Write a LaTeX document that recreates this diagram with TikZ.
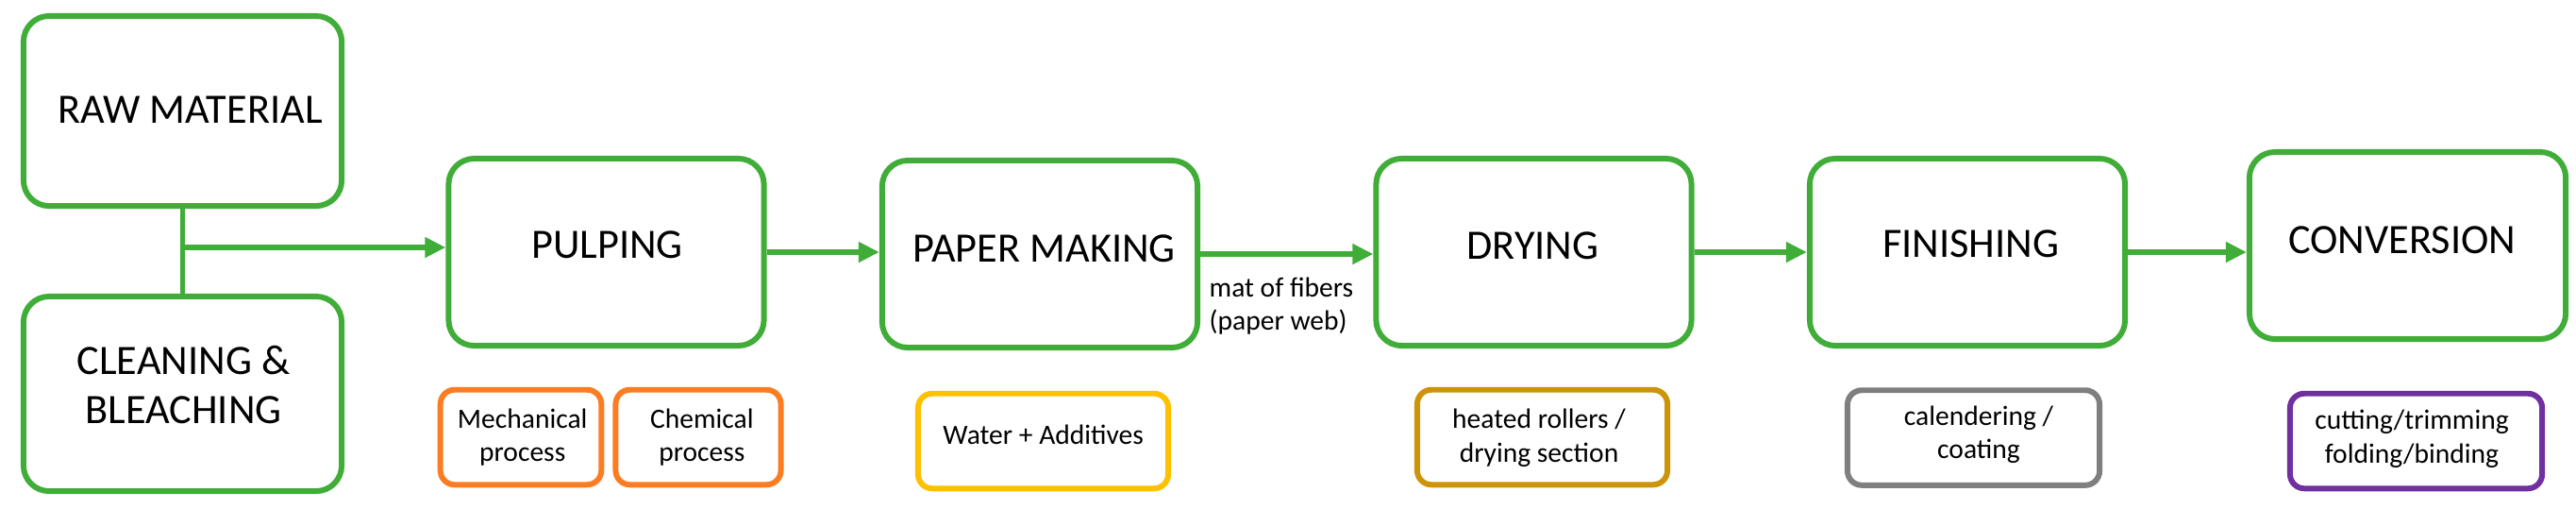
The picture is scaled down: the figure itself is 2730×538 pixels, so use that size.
\documentclass[tikz,border=0pt]{standalone}
\usepackage{fontspec}
\setmainfont{Carlito}
\usetikzlibrary{arrows.meta}
\definecolor{pgreen}{RGB}{64,173,56}
\definecolor{porange}{RGB}{250,125,35}
\definecolor{pyellow}{RGB}{255,192,0}
\definecolor{pgold}{RGB}{205,148,10}
\definecolor{pgray}{RGB}{127,127,127}
\definecolor{ppurple}{RGB}{112,48,160}
\begin{document}
\begin{tikzpicture}[x=0.01cm,y=-0.01cm,
  mainbox/.style={draw=pgreen, line width=1.7pt, rounded corners=7.7pt, minimum width=3.34cm, minimum height=1.98cm, inner sep=0pt, fill=white},
  subbox/.style={line width=1.7pt, rounded corners=4.3pt, minimum height=1.005cm, inner sep=0pt, fill=white},
  bigtxt/.style={font=\fontsize{12.6}{14.8}\selectfont, inner sep=0pt, anchor=base},
  smalltxt/.style={font=\fontsize{8.4}{10.2}\selectfont, inner sep=0pt, anchor=base},
  conn/.style={draw=pgreen, line width=1.6pt},
  arr/.style={conn, -{Triangle[length=6.3pt,width=5.9pt]}}
]
\useasboundingbox (0,0) rectangle (2730,538);

% main boxes
\node[mainbox, minimum width=3.37cm, minimum height=2.01cm] (raw) at (193.5,117.5) {};
\node[mainbox, minimum width=3.37cm, minimum height=2.06cm] (clean) at (193.5,417) {};
\node[mainbox] (pulp) at (642.5,267) {};
\node[mainbox] (pm) at (1102,269) {};
\node[mainbox] (dry) at (1625.5,267) {};
\node[mainbox] (fin) at (2085,267) {};
\node[mainbox, minimum width=3.35cm] (conv) at (2551.5,260) {};

% sub boxes
\node[subbox, draw=porange, minimum width=1.705cm] (mech) at (552,463) {};
\node[subbox, draw=porange, minimum width=1.75cm] (chem) at (740,463) {};
\node[subbox, draw=pyellow, minimum width=2.65cm] (water) at (1105.5,467) {};
\node[subbox, draw=pgold, minimum width=2.65cm] (heat) at (1634.5,463) {};
\node[subbox, draw=pgray, minimum width=2.67cm] (cal) at (2091.5,463.5) {};
\node[subbox, draw=ppurple, minimum width=2.67cm] (cut) at (2560.5,467) {};

% main texts
\node[bigtxt] (rawt) at (201.5,130.4) {RAW MATERIAL};
\node[bigtxt] (cleant) at (194.5,396) {\begin{tabular}[t]{@{}c@{}}CLEANING \&\\BLEACHING\end{tabular}};
\node[bigtxt] (pulpt) at (643.6,273.5) {PULPING};
\node[bigtxt] (pmt) at (1106.7,277) {PAPER MAKING};
\node[bigtxt] (dryt) at (1624.5,274.5) {DRYING};
\node[bigtxt] (fint) at (2088.5,272.8) {FINISHING};
\node[bigtxt] (convt) at (2545.7,268.7) {CONVERSION};

% small texts
\node[smalltxt] (mecht) at (553.7,453) {\begin{tabular}[t]{@{}c@{}}Mechanical\\process\end{tabular}};
\node[smalltxt] (chemt) at (743.9,453) {\begin{tabular}[t]{@{}c@{}}Chemical\\process\end{tabular}};
\node[smalltxt] (watert) at (1105.7,470) {Water + Additives};
\node[smalltxt] (heatt) at (1631,453.7) {\begin{tabular}[t]{@{}c@{}}heated rollers /\\drying section\end{tabular}};
\node[smalltxt] (calt) at (2097,450) {\begin{tabular}[t]{@{}c@{}}calendering /\\coating\end{tabular}};
\node[smalltxt] (cutt) at (2556,454.7) {\begin{tabular}[t]{@{}c@{}}cutting/trimming\\folding/binding\end{tabular}};
\node[smalltxt, anchor=base west] (matt) at (1281,314) {\begin{tabular}[t]{@{}l@{}}mat of fibers\\(paper web)\end{tabular}};

% connectors
\draw[conn] (raw.south) -- (clean.north);
\coordinate (j) at (193.5,262);
\draw[arr] (j) -- (j -| pulp.west);
\draw[arr] (pulp.east) -- (pulp.east -| pm.west);
\draw[arr] (pm.east) -- (pm.east -| dry.west);
\draw[arr] (dry.east) -- (dry.east -| fin.west);
\draw[arr] (fin.east) -- (fin.east -| conv.west);
\end{tikzpicture}
\end{document}
